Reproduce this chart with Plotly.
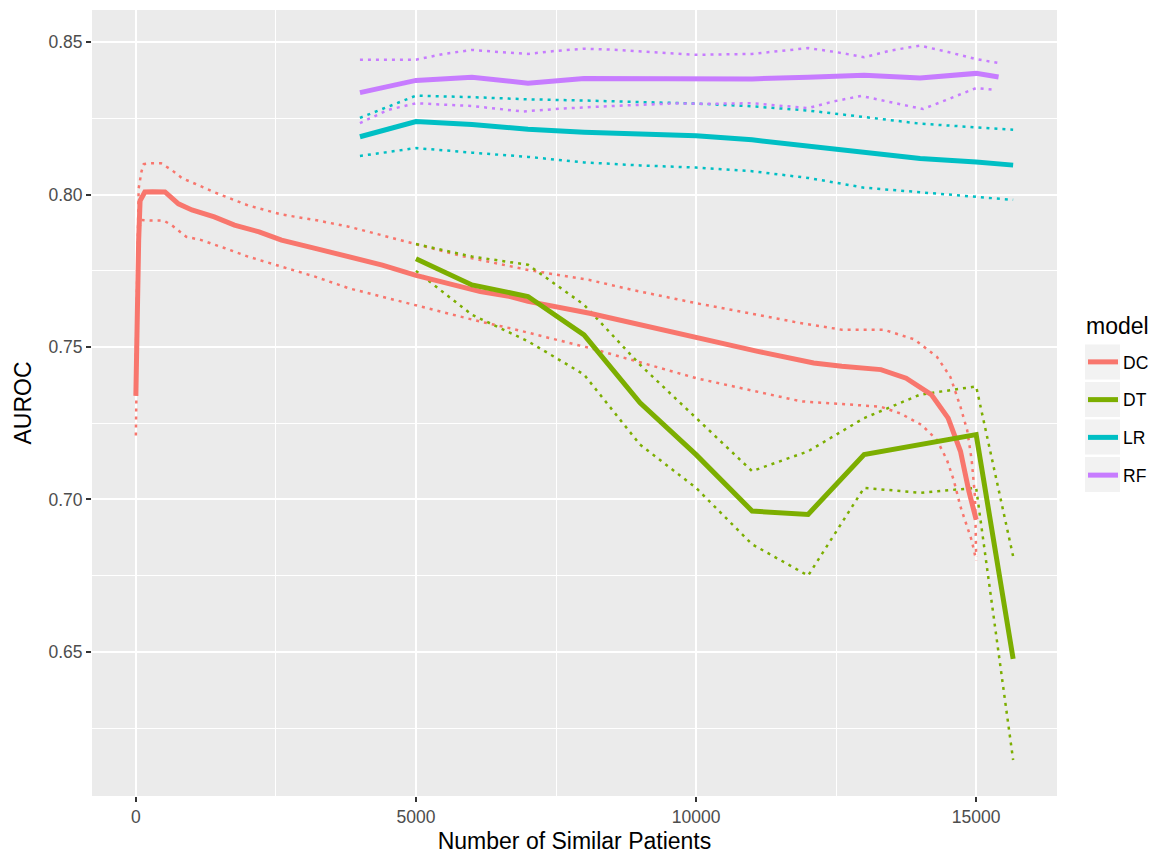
import plotly.graph_objects as go

# ---------------- data ----------------
dc_x = [0, 20, 50, 75, 160, 300, 520, 760, 1000, 1400, 1760, 2200, 2600, 3200, 3800,
        4400, 5000, 5600, 6150, 6700, 7000, 8100, 8850, 10000, 11100, 12100, 12600,
        13300, 13750, 14200, 14500, 14720, 14870, 15000]
dc_y = [0.734, 0.760, 0.785, 0.798, 0.8009, 0.8010, 0.8009, 0.7970, 0.7950, 0.7927,
        0.7900, 0.7878, 0.7851, 0.7824, 0.7797, 0.7769, 0.7735, 0.7709, 0.7682, 0.7665,
        0.7650, 0.7611, 0.7579, 0.7530, 0.7486, 0.7448, 0.7437, 0.7426, 0.7398, 0.7344,
        0.7267, 0.7158, 0.7027, 0.6934]

dc_hi_x = [0, 30, 50, 100, 140, 250, 450, 640, 820, 1400, 2000, 2600, 3200, 3800, 4400,
           5000, 5860, 7000, 8100, 8850, 10000, 11100, 11850, 12600, 13350, 13900, 14300,
           14540, 14720, 14840, 14920, 14980, 15000]
dc_hi_y = [0.747, 0.790, 0.802, 0.8076, 0.8100, 0.8103, 0.8103, 0.8081, 0.8055, 0.8008,
           0.7965, 0.7935, 0.7917, 0.7895, 0.7866, 0.7837, 0.7797, 0.7753, 0.7720, 0.7688,
           0.7644, 0.7606, 0.7579, 0.7557, 0.7557, 0.7525, 0.7468, 0.7402, 0.7304, 0.7227,
           0.7129, 0.7008, 0.6811]

dc_lo_x = [0, 30, 50, 100, 250, 500, 640, 900, 1170, 1580, 2000, 2600, 3200, 3800, 4400,
           5000, 5600, 6160, 6700, 8100, 10000, 11870, 12850, 13300, 13650, 14030, 14300,
           14480, 14600, 14720, 14920, 15000]
dc_lo_y = [0.721, 0.775, 0.7884, 0.7917, 0.7915, 0.7915, 0.7900, 0.7862, 0.7851, 0.7825,
           0.7797, 0.7764, 0.7731, 0.7693, 0.7665, 0.7638, 0.7611, 0.7583, 0.7561, 0.7497,
           0.7398, 0.7322, 0.7310, 0.7304, 0.7282, 0.7244, 0.7195, 0.7129, 0.7063, 0.6976,
           0.6866, 0.6800]

dt_x = [5000, 6000, 7000, 8000, 9000, 10000, 11000, 12000, 13000, 14000, 15000, 15660]
dt_y = [0.7790, 0.7704, 0.7666, 0.7540, 0.7317, 0.7147, 0.6962, 0.6951, 0.7147, 0.7180,
        0.7213, 0.6477]
dt_hi = [0.7838, 0.7797, 0.7770, 0.7639, 0.7442, 0.7267, 0.7093, 0.7158, 0.7267, 0.7344,
         0.7371, 0.6813]
dt_lo = [0.7750, 0.7606, 0.7519, 0.7410, 0.7180, 0.7038, 0.6853, 0.6750, 0.7038, 0.7022,
         0.7038, 0.6145]

lr_x = [4000, 5000, 6000, 7000, 8000, 9000, 10000, 11000, 12000, 13000, 14000, 15000, 15660]
lr_y = [0.8190, 0.8240, 0.8230, 0.8215, 0.8205, 0.8200, 0.8193, 0.8180, 0.8161, 0.8141,
        0.8119, 0.8107, 0.8097]
lr_hi = [0.8252, 0.8325, 0.8320, 0.8313, 0.8309, 0.8304, 0.8299, 0.8290, 0.8276, 0.8255,
         0.8233, 0.8221, 0.8213]
lr_lo = [0.8127, 0.8153, 0.8138, 0.8124, 0.8106, 0.8096, 0.8089, 0.8077, 0.8055, 0.8023,
         0.8008, 0.7992, 0.7983]

rf_x = [4000, 5000, 6000, 7000, 8000, 9000, 10000, 11000, 12000, 13000, 14000, 15000, 15400]
rf_y = [0.8335, 0.8375, 0.8385, 0.8366, 0.8381, 0.8380, 0.8377, 0.8380, 0.8385, 0.8392,
        0.8383, 0.8398, 0.8386]
rf_hi_x = [4000, 4500, 5000, 5500, 6000, 6500, 7000, 7500, 8000, 8500, 9000, 10000, 11000,
           12000, 12500, 13000, 13500, 14000, 14500, 15000, 15400]
rf_hi_y = [0.8443, 0.8443, 0.8443, 0.8462, 0.8475, 0.8468, 0.8462, 0.8472, 0.8479, 0.8476,
           0.8471, 0.8459, 0.8462, 0.8481, 0.8468, 0.8451, 0.8474, 0.8489, 0.8468, 0.8445,
           0.8432]
rf_lo_x = [4000, 4500, 5000, 6000, 6900, 7650, 8500, 9700, 10100, 11000, 12000, 12450,
           12950, 13400, 14050, 14550, 15000, 15350]
rf_lo_y = [0.8235, 0.8278, 0.8300, 0.8291, 0.8273, 0.8283, 0.8291, 0.8300, 0.8298, 0.8300,
           0.8284, 0.8306, 0.8324, 0.8306, 0.8281, 0.8317, 0.8350, 0.8344]

models = ["DC", "DT", "LR", "RF"]
colors = {"DC": "#F8766D", "DT": "#7CAE00", "LR": "#00BFC4", "RF": "#C77CFF"}

series = {
    "DC": (dc_x, dc_y, dc_hi_x, dc_hi_y, dc_lo_x, dc_lo_y),
    "DT": (dt_x, dt_y, dt_x, dt_hi, dt_x, dt_lo),
    "LR": (lr_x, lr_y, lr_x, lr_hi, lr_x, lr_lo),
    "RF": (rf_x, rf_y, rf_hi_x, rf_hi_y, rf_lo_x, rf_lo_y),
}

FONT = "Liberation Sans, Arial, sans-serif"

# page body has an 8px margin: figure sits at (8, 8)
OFF = 8
PL, PR, PT, PB = 92, 1057, 10, 796          # plot panel in page pixels
W, H = 1157 - OFF, 854 - OFF


def px_x(x):
    return (x - PL) / (PR - PL)


def px_y(y):
    return (PB - y) / (PB - PT)


fig = go.Figure()
for m in models:
    x, y, hx, hy, lx, ly = series[m]
    for xx, yy in ((hx, hy), (lx, ly)):
        fig.add_trace(go.Scatter(x=xx, y=yy, mode="lines", showlegend=False,
                                 legendgroup=m, hoverinfo="skip",
                                 line=dict(color=colors[m], width=2.5, dash="3px,5px")))
for m in models:
    x, y, hx, hy, lx, ly = series[m]
    fig.add_trace(go.Scatter(x=x, y=y, mode="lines", name=m, legendgroup=m,
                             line=dict(color=colors[m], width=5)))

# legend key backgrounds (ggplot-style grey squares)
shapes = []
for i in range(4):
    yc = 362 + i * 37.5
    shapes.append(dict(type="rect", xref="paper", yref="paper",
                       x0=px_x(1085), x1=px_x(1120),
                       y0=px_y(yc + 17.5), y1=px_y(yc - 17.5),
                       fillcolor="#F2F2F2", line=dict(width=0), layer="below"))

fig.update_layout(
    width=W, height=H,
    margin=dict(l=PL - OFF, r=W + OFF - PR, t=PT - OFF, b=H + OFF - PB, autoexpand=False),
    paper_bgcolor="white", plot_bgcolor="#EBEBEB",
    font=dict(family=FONT, color="#000000"),
    shapes=shapes,
    annotations=[dict(text="model", xref="paper", yref="paper", x=px_x(1084),
                      y=px_y(326), xanchor="left", yanchor="middle", showarrow=False,
                      font=dict(size=23, color="#000000"))],
    legend=dict(
        font=dict(size=17.5, color="#000000"),
        x=px_x(1083), xanchor="left",
        y=px_y(344), yanchor="top",
        bgcolor="rgba(0,0,0,0)", tracegroupgap=12, itemwidth=30,
    ),
    xaxis=dict(
        range=[-783, 16443], tickvals=[0, 5000, 10000, 15000],
        ticktext=["0", "5000", "10000", "15000"],
        showgrid=True, gridcolor="white", gridwidth=2, zeroline=False,
        minor=dict(tickvals=[2500, 7500, 12500], showgrid=True, gridcolor="white",
                   gridwidth=1, ticks=""),
        ticks="outside", ticklen=5, tickwidth=1.5, tickcolor="#333333",
        tickfont=dict(size=17.5, color="#4D4D4D"),
        title=dict(text="Number of Similar Patients", font=dict(size=23, color="#000000"),
                   standoff=7),
        showline=False,
    ),
    yaxis=dict(
        range=[0.6027, 0.8606], tickvals=[0.65, 0.70, 0.75, 0.80, 0.85],
        ticktext=["0.65", "0.70", "0.75", "0.80", "0.85"],
        showgrid=True, gridcolor="white", gridwidth=2, zeroline=False,
        minor=dict(tickvals=[0.625, 0.675, 0.725, 0.775, 0.825], showgrid=True,
                   gridcolor="white", gridwidth=1, ticks=""),
        ticks="outside", ticklen=5, tickwidth=1.5, tickcolor="#333333",
        tickfont=dict(size=17.5, color="#4D4D4D"),
        title=dict(text="AUROC", font=dict(size=23, color="#000000"), standoff=10),
        showline=False,
    ),
)

fig.write_html("out.html")
